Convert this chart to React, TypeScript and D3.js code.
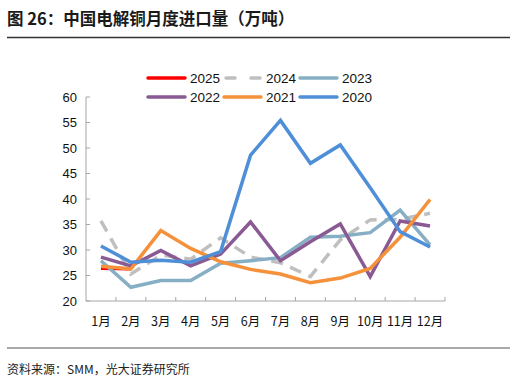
import React from "react";
import * as d3 from "d3";

const months = ["1月", "2月", "3月", "4月", "5月", "6月", "7月", "8月", "9月", "10月", "11月", "12月"];
const yTicks = [20, 25, 30, 35, 40, 45, 50, 55, 60];

const s2025 = [26.4, 26.3];
const s2024 = [35.7, 25.3, 29.0, 28.2, 32.4, 28.6, 27.5, 24.8, 32.0, 35.9, 36.0, 37.2];
const s2023 = [27.9, 22.7, 24.0, 24.0, 27.4, 27.9, 28.5, 32.5, 32.7, 33.4, 37.8, 31.0];
const s2022 = [28.6, 26.9, 29.9, 26.9, 29.2, 35.5, 27.9, 31.6, 35.1, 24.8, 35.7, 34.7];
const s2021 = [26.8, 26.3, 33.8, 30.3, 27.7, 26.2, 25.3, 23.6, 24.5, 26.4, 32.5, 39.9];
const s2020 = [30.8, 27.6, 28.0, 27.6, 29.7, 48.6, 55.4, 47.0, 50.6, 42.2, 33.6, 30.6];

const seriesList = [
  { name: "2025", values: s2025, color: "#ff0000", dash: "" },
  { name: "2024", values: s2024, color: "#bfbfbf", dash: "12,8" },
  { name: "2023", values: s2023, color: "#86aec4", dash: "" },
  { name: "2022", values: s2022, color: "#8a5a94", dash: "" },
  { name: "2021", values: s2021, color: "#f5913a", dash: "" },
  { name: "2020", values: s2020, color: "#4f8fd8", dash: "" },
];

export default function App() {
  const W = 515, H = 382;
  const x = d3.scaleBand<string>().domain(months).range([86, 445]);
  const y = d3.scaleLinear().domain([20, 60]).range([301, 97]);
  const line = d3
    .line<number>()
    .x((_, i) => (x(months[i]) as number) + x.bandwidth() / 2)
    .y((d) => y(d));
  const font = "Liberation Sans, Arial, sans-serif";
  const cjk = "'Noto Sans CJK SC', sans-serif";
  const legendX = [148, 224, 300];
  const legendY = [78, 97];
  const axisColor = "#a6a6a6";
  return (
    <svg width={W} height={H} style={{ position: "absolute", left: 0, top: 0, background: "#fff" }}>
      <text x={7} y={25} fontFamily={cjk} fontWeight="bold" fontSize={16.5} fill="#1a1a1a">
        图 26：中国电解铜月度进口量（万吨）
      </text>
      <line x1={7} x2={510} y1={37.5} y2={37.5} stroke="#333" strokeWidth={1.5} />
      {/* axes */}
      <line x1={86} x2={86} y1={97} y2={301} stroke={axisColor} strokeWidth={1} />
      <line x1={86} x2={445} y1={301} y2={301} stroke={axisColor} strokeWidth={1} />
      {yTicks.map((t) => (
        <g key={t}>
          <line x1={86} x2={90} y1={y(t)} y2={y(t)} stroke={axisColor} />
          <text x={77} y={y(t)} dy="0.35em" textAnchor="end" fontFamily={font} fontSize={13} fill="#111">
            {t}
          </text>
        </g>
      ))}
      {months.map((m, i) => (
        <g key={m}>
          <line
            x1={(x(m) as number) + x.bandwidth()}
            x2={(x(m) as number) + x.bandwidth()}
            y1={301}
            y2={297}
            stroke={axisColor}
          />
          <text
            x={(x(m) as number) + x.bandwidth() / 2}
            y={326}
            textAnchor="middle"
            fontFamily={cjk}
            fontSize={12.5}
            fill="#111"
          >
            {m}
          </text>
        </g>
      ))}
      {seriesList.map((s) => (
        <path
          key={s.name}
          d={line(s.values) || ""}
          fill="none"
          stroke={s.color}
          strokeWidth={3.5}
          strokeDasharray={s.dash}
          strokeLinejoin="miter"
        />
      ))}
      {seriesList.map((s, i) => {
        const lx = legendX[i % 3];
        const ly = legendY[Math.floor(i / 3)];
        return (
          <g key={"lg" + s.name}>
            <line
              x1={s.dash ? lx + 2 : lx}
              x2={s.dash ? lx + 36 : lx + 37}
              y1={ly}
              y2={ly}
              stroke={s.color}
              strokeWidth={3.5}
              strokeLinecap="round"
              strokeDasharray={s.dash ? "9,16" : ""}
            />
            <text x={lx + 42} y={ly} dy="0.35em" fontFamily={font} fontSize={13.5} fill="#111">
              {s.name}
            </text>
          </g>
        );
      })}
      <line x1={7} x2={510} y1={348} y2={348} stroke="#555" strokeWidth={1.2} />
      <text x={7} y={374} fontFamily={cjk} fontSize={12} fill="#222">
        资料来源：SMM，光大证券研究所
      </text>
    </svg>
  );
}
